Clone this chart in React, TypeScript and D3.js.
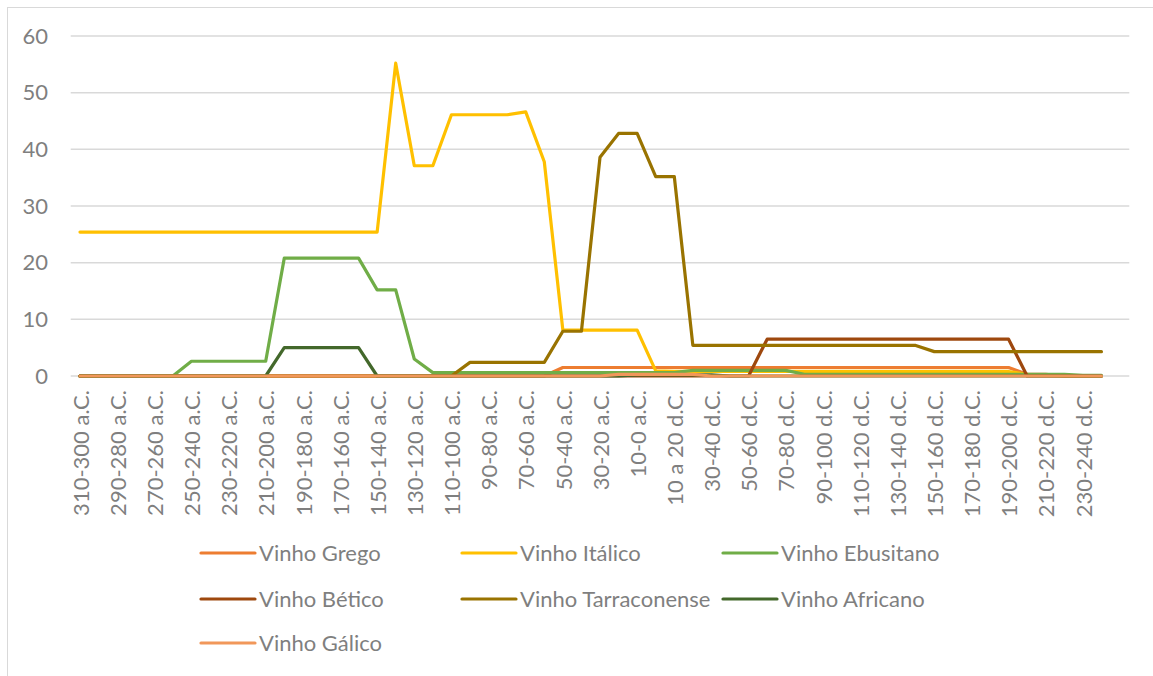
import React from "react";
import * as d3 from "d3";

const categories: string[] = [
  "310-300 a.C.", "300-290 a.C.", "290-280 a.C.", "280-270 a.C.", "270-260 a.C.", "260-250 a.C.",
  "250-240 a.C.", "240-230 a.C.", "230-220 a.C.", "220-210 a.C.", "210-200 a.C.", "200-190 a.C.",
  "190-180 a.C.", "180-170 a.C.", "170-160 a.C.", "160-150 a.C.", "150-140 a.C.", "140-130 a.C.",
  "130-120 a.C.", "120-110 a.C.", "110-100 a.C.", "100-90 a.C.", "90-80 a.C.", "80-70 a.C.",
  "70-60 a.C.", "60-50 a.C.", "50-40 a.C.", "40-30 a.C.", "30-20 a.C.", "20-10 a.C.",
  "10-0 a.C.", "0 a 10 d.C.", "10 a 20 d.C.", "20-30 d.C.", "30-40 d.C.", "40-50 d.C.",
  "50-60 d.C.", "60-70 d.C.", "70-80 d.C.", "80-90 d.C.", "90-100 d.C.", "100-110 d.C.",
  "110-120 d.C.", "120-130 d.C.", "130-140 d.C.", "140-150 d.C.", "150-160 d.C.", "160-170 d.C.",
  "170-180 d.C.", "180-190 d.C.", "190-200 d.C.", "200-210 d.C.", "210-220 d.C.", "220-230 d.C.",
  "230-240 d.C.", "240-250 d.C.", ""
];

const seriesNames: string[] = [
  "Vinho Grego", "Vinho Itálico", "Vinho Ebusitano", "Vinho Bético",
  "Vinho Tarraconense", "Vinho Africano", "Vinho Gálico"
];

const seriesColors: string[] = [
  "#ED7D31", "#FFC000", "#70AD47", "#9E480E", "#997300", "#43682B", "#F1975A"
];

// index 0..55
const vinhoGrego: number[] = [
  0, 0, 0, 0, 0, 0, 0, 0, 0, 0, 0, 0, 0, 0, 0, 0, 0, 0, 0, 0, 0, 0, 0, 0, 0, 0,
  1.5, 1.5, 1.5, 1.5, 1.5, 1.5, 1.5, 1.5, 1.5, 1.5, 1.5, 1.5, 1.5, 1.5, 1.5, 1.5, 1.5, 1.5, 1.5, 1.5, 1.5, 1.5, 1.5, 1.5, 1.5,
  0.3, 0.3, 0, 0, 0
];

const vinhoItalico: number[] = [
  25.4, 25.4, 25.4, 25.4, 25.4, 25.4, 25.4, 25.4, 25.4, 25.4, 25.4, 25.4, 25.4, 25.4, 25.4, 25.4, 25.4,
  55.2, 37.1, 37.1, 46.1, 46.1, 46.1, 46.1, 46.6, 37.8,
  8.1, 8.1, 8.1, 8.1, 8.1,
  0.9, 0.8, 0.8, 0.8, 0.8, 0.8, 0.8, 0.8, 0.8, 0.8, 0.8, 0.8, 0.8, 0.8, 0.8, 0.8, 0.8, 0.8, 0.8, 0.8,
  0.3, 0.1, 0, 0, 0
];

const vinhoEbusitano: number[] = [
  0, 0, 0, 0, 0, 0,
  2.6, 2.6, 2.6, 2.6, 2.6,
  20.8, 20.8, 20.8, 20.8, 20.8,
  15.2, 15.2, 3.0,
  0.6, 0.6, 0.6, 0.6, 0.6, 0.6, 0.6, 0.6, 0.6, 0.6, 0.6, 0.6, 0.6, 0.6,
  1.0, 1.0, 1.0, 1.0, 1.0, 1.0,
  0.3, 0.3, 0.3, 0.3, 0.3, 0.3, 0.3, 0.3, 0.3, 0.3, 0.3, 0.3, 0.3, 0.3, 0.3,
  0.1, 0.1
];

const vinhoBetico: number[] = [
  0, 0, 0, 0, 0, 0, 0, 0, 0, 0, 0, 0, 0, 0, 0, 0, 0, 0, 0, 0, 0, 0, 0, 0, 0, 0, 0, 0, 0, 0,
  0, 0, 0, 0, 0, 0, 0,
  6.5, 6.5, 6.5, 6.5, 6.5, 6.5, 6.5, 6.5, 6.5, 6.5, 6.5, 6.5, 6.5, 6.5,
  0, 0, 0, 0, 0
];

const vinhoTarraconense: number[] = [
  0, 0, 0, 0, 0, 0, 0, 0, 0, 0, 0, 0, 0, 0, 0, 0, 0, 0, 0, 0, 0,
  2.4, 2.4, 2.4, 2.4, 2.4,
  7.9, 7.9, 38.6, 42.8, 42.8, 35.2, 35.2,
  5.4, 5.4, 5.4, 5.4, 5.4, 5.4, 5.4, 5.4, 5.4, 5.4, 5.4, 5.4, 5.4,
  4.3, 4.3, 4.3, 4.3, 4.3, 4.3, 4.3, 4.3, 4.3, 4.3
];

const vinhoAfricano: number[] = [
  0, 0, 0, 0, 0, 0, 0, 0, 0, 0, 0,
  5.0, 5.0, 5.0, 5.0, 5.0,
  0, 0, 0, 0, 0, 0, 0, 0, 0, 0, 0, 0, 0, 0,
  0.2, 0.2, 0.2, 0.2, 0.2,
  0, 0, 0, 0, 0, 0, 0, 0, 0, 0, 0, 0, 0, 0, 0, 0, 0, 0, 0, 0, 0
];

const vinhoGalico: number[] = [
  0, 0, 0, 0, 0, 0, 0, 0, 0, 0, 0, 0, 0, 0, 0, 0, 0, 0, 0, 0, 0, 0, 0, 0, 0, 0, 0, 0, 0,
  0.3, 0.3, 0.3, 0.3, 0.3,
  0, 0, 0, 0, 0, 0, 0, 0, 0, 0, 0, 0, 0, 0, 0, 0, 0, 0, 0, 0, 0, 0
];

const yTicks: number[] = [0, 10, 20, 30, 40, 50, 60];

const allSeries: number[][] = [
  vinhoGrego, vinhoItalico, vinhoEbusitano, vinhoBetico, vinhoTarraconense, vinhoAfricano, vinhoGalico
];

const W = 1153;
const H = 676;
const FONT = "Lato, 'Open Sans', sans-serif";
const TEXT = "#7F7F7F";

export default function App() {
  const x = d3.scalePoint<string>().domain(categories.map((c, i) => i + "|" + c)).range([70.7, 1129.3]).padding(0.5);
  const keys = categories.map((c, i) => i + "|" + c);
  const y = d3.scaleLinear().domain([0, 60]).range([376, 36]);
  const line = d3.line<number>()
    .x((_, i) => x(keys[i]) as number)
    .y((v) => y(v));

  const legendCols = [201, 462, 723];
  const legendRows = [553, 599, 643];

  return (
    <div style={{ position: "absolute", left: 0, top: 0 }}>
      <svg width={W} height={H} style={{ display: "block", background: "#fff" }}>
        <rect x={7.5} y={7.5} width={W + 20} height={H + 20} fill="#fff" stroke="#D9D9D9" strokeWidth={1} />
        {yTicks.map((t) => (
          <g key={t}>
            <line x1={70.7} x2={1129.3} y1={y(t)} y2={y(t)} stroke="#D9D9D9" strokeWidth={1.5} />
            <text x={48} y={y(t)} dy="0.35em" textAnchor="end" fontFamily={FONT} fontSize={22} fill={TEXT}>{t}</text>
          </g>
        ))}
        {keys.map((k, i) =>
          i % 2 === 0 && categories[i] !== "" ? (
            <text
              key={k}
              transform={`translate(${(x(k) as number) + 1},390) rotate(-90)`}
              textAnchor="end"
              dy="0.35em"
              fontFamily={FONT}
              fontSize={22}
              fill={TEXT}
            >
              {categories[i]}
            </text>
          ) : null
        )}
        {allSeries.map((s, si) => (
          <path
            key={seriesNames[si]}
            d={line(s) || ""}
            fill="none"
            stroke={seriesColors[si]}
            strokeWidth={3.2}
            strokeLinejoin="round"
            strokeLinecap="round"
          />
        ))}
        {seriesNames.map((n, si) => {
          const cx = legendCols[si % 3];
          const cy = legendRows[Math.floor(si / 3)];
          return (
            <g key={n}>
              <line x1={cx} x2={cx + 54} y1={cy} y2={cy} stroke={seriesColors[si]} strokeWidth={3.2} strokeLinecap="round" />
              <text x={cx + 58} y={cy} dy="0.35em" fontFamily={FONT} fontSize={22} fill={TEXT}>{n}</text>
            </g>
          );
        })}
      </svg>
    </div>
  );
}
